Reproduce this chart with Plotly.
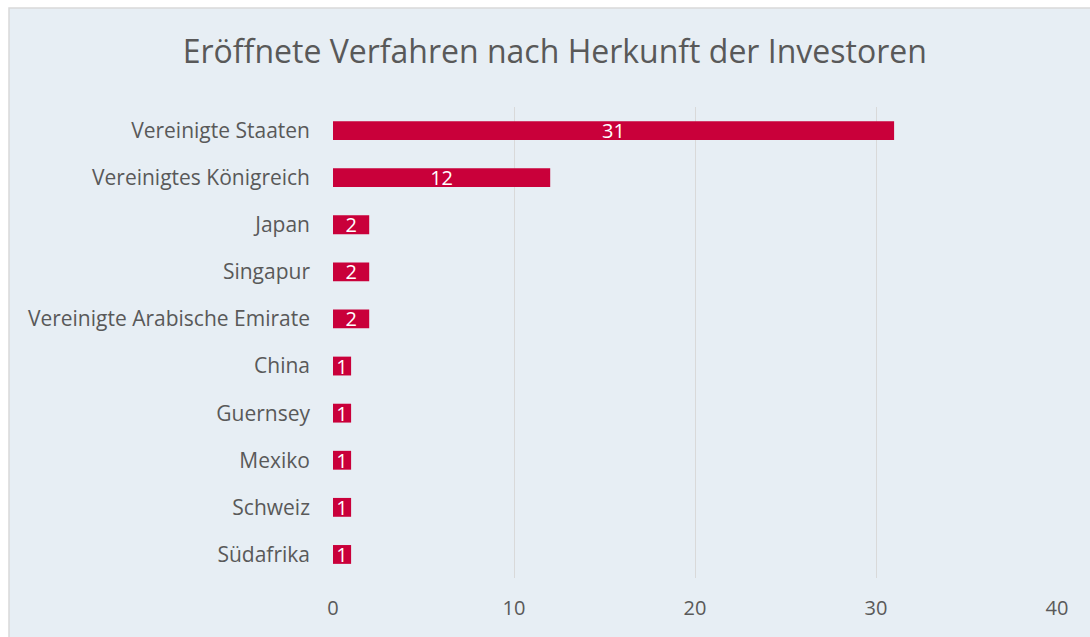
import plotly.graph_objects as go

countries = ["Vereinigte Staaten", "Vereinigtes Königreich", "Japan", "Singapur",
             "Vereinigte Arabische Emirate", "China", "Guernsey", "Mexiko", "Schweiz", "Südafrika"]
values = [31, 12, 2, 2, 2, 1, 1, 1, 1, 1]
x_ticks = [0, 10, 20, 30, 40]

title = "Eröffnete Verfahren nach Herkunft der Investoren"
FONT = "Open Sans"
GRAY = "#595959"
BG = "#E7EEF4"
BAR = "#C9003A"

fig = go.Figure(go.Bar(
    x=values, y=countries, orientation="h",
    marker=dict(color=BAR, line=dict(width=0)),
    width=0.4,
    text=[str(v) for v in values], textposition="inside", textangle=0,
    insidetextanchor="middle", constraintext="none",
    textfont=dict(color="white", size=20, family=FONT),
    hoverinfo="skip",
))

L, R, T, B = 333, 33, 107, 59
W, H = 1090, 637
pw, ph = W - L - R, H - T - B

def px_x(p):
    return (p - L) / pw

def px_y(p):
    return (H - B - p) / ph

fig.add_shape(type="rect", xref="paper", yref="paper",
              x0=px_x(9), x1=px_x(1100), y0=px_y(650), y1=px_y(8),
              fillcolor=BG, line=dict(color="#D9D9D9", width=1.5), layer="below")

fig.update_layout(
    width=W, height=H,
    margin=dict(l=L, r=R, t=T, b=B),
    paper_bgcolor="white", plot_bgcolor="rgba(0,0,0,0)",
    showlegend=False,
    title=dict(text=title, x=0.509, xref="container", xanchor="center",
               y=1 - 52 / H, yref="container", yanchor="middle",
               font=dict(family=FONT, size=32, color=GRAY)),
    font=dict(family=FONT, color=GRAY),
    xaxis=dict(range=[0, 40], tickvals=x_ticks, showgrid=True, gridcolor="#D9D9D9",
               gridwidth=1.3, zeroline=False, showline=False, ticks="",
               tickfont=dict(size=20, color=GRAY, family=FONT), ticklabelstandoff=16),
    yaxis=dict(categoryorder="array", categoryarray=countries, autorange="reversed",
               showgrid=False, zeroline=False, showline=False, ticks="",
               tickfont=dict(size=21, color=GRAY, family=FONT), ticklabelstandoff=22),
)

fig.write_html("out.html", config={"displayModeBar": False},
               post_script="document.body.style.margin='0';document.body.style.overflow='hidden';")
